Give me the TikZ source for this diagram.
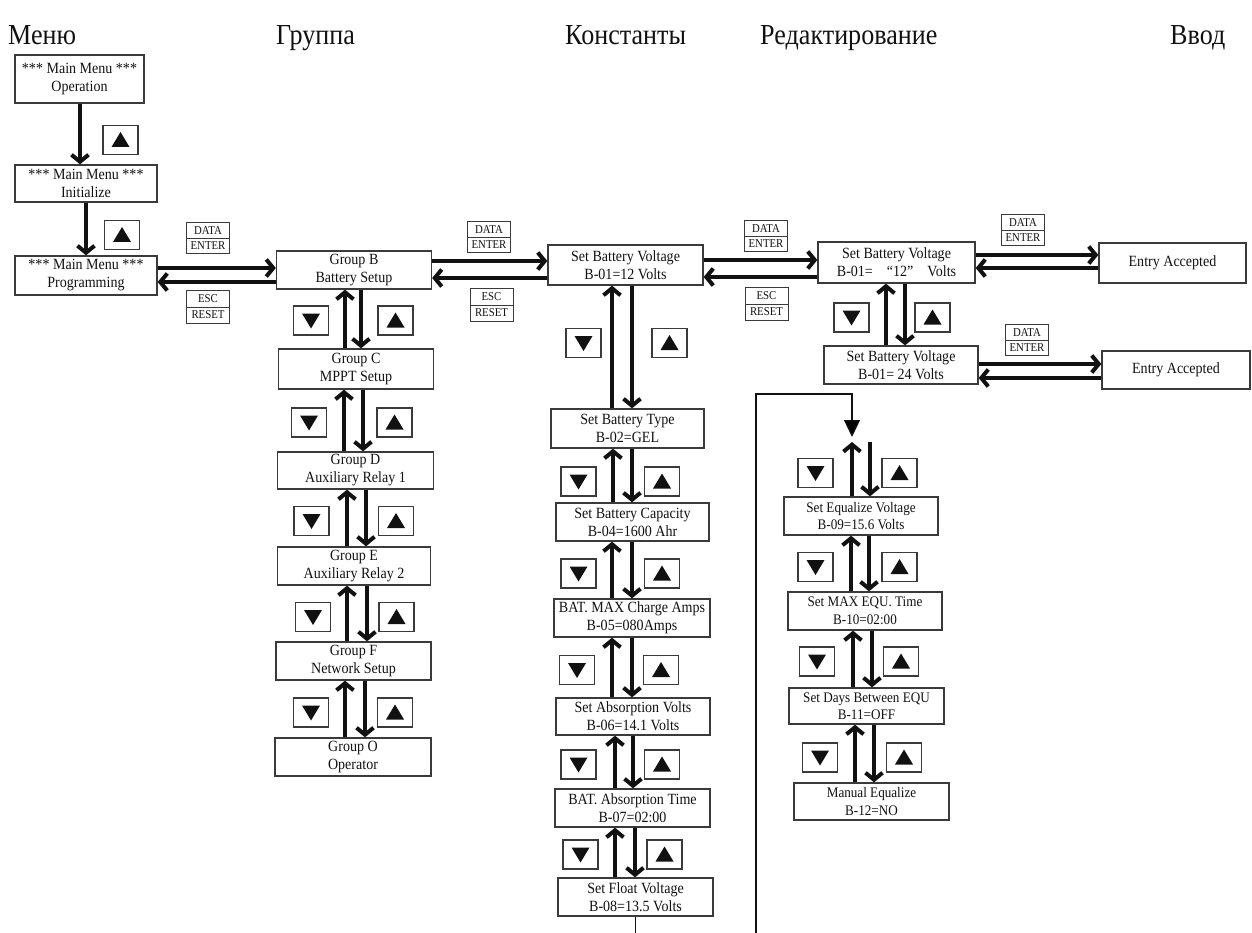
\documentclass[tikz,border=0pt]{standalone}
\usepackage{fontspec}
\setmainfont[FakeStretch=0.9]{Liberation Serif}
\usetikzlibrary{arrows.meta,shapes.multipart}
\definecolor{ink}{HTML}{111111}
\definecolor{frame}{HTML}{3A3A3A}

% key with an up / down triangle
\newcommand\ukey[3]{%
  \node[key] (#1) at (#2,#3) {};
  \fill[ink] ([shift={(-9,7)}]#1.center) -- ([shift={(9,7)}]#1.center) -- ([shift={(0,-8)}]#1.center) -- cycle;}
\newcommand\dkey[3]{%
  \node[key] (#1) at (#2,#3) {};
  \fill[ink] ([shift={(-9,-7)}]#1.center) -- ([shift={(9,-7)}]#1.center) -- ([shift={(0,8)}]#1.center) -- cycle;}

\begin{document}
\begin{tikzpicture}[x=1pt,y=-1pt,
  box/.style={draw=frame, line width=1.3pt, inner sep=0pt, align=center, text=ink,
    font=\fontsize{15.6}{18}\selectfont},
  sbox/.style={box, font=\fontsize{14.6}{17.5}\selectfont},
  key/.style={draw=frame, line width=1.3pt, minimum width=35pt, minimum height=29pt, inner sep=0pt},
  lbl/.style={draw=frame, line width=1pt, rectangle split, rectangle split parts=2,
    inner xsep=2pt, inner ysep=3.5pt, minimum width=43pt, text=ink,
    font=\fontsize{12}{13}\selectfont},
  fw/.style={draw=ink, line width=4pt, -{Straight Barb[length=7pt,width=17pt]}},
  thinline/.style={draw=ink, line width=1.3pt},
  head/.style={anchor=base west, inner sep=0pt, text=ink, font=\fontsize{29}{32}\selectfont}]

\useasboundingbox (0,0) rectangle (1252,933);

% column headings
\node[head] (h1) at (8,45) {Меню};
\node[head] (h2) at (276,45) {Группа};
\node[head] (h3) at (565,45) {Константы};
\node[head] (h4) at (760,45) {Редактирование};
\node[head] (h5) at (1170,45) {Ввод};

% main menu column
\node[box, minimum width=129pt, minimum height=48pt] (L1) at (79.5,79) {*** Main Menu ***\\Operation};
\node[box, minimum width=142pt, minimum height=37pt] (L2) at (86,183.5) {*** Main Menu ***\\Initialize};
\node[box, minimum width=142pt, minimum height=39pt] (L3) at (86,275.5) {*** Main Menu ***\\Programming};
\ukey{kL1}{120.5}{140}
\ukey{kL2}{122}{235}
\draw[fw] (80,0 |- L1.south) -- (80,0 |- L2.north);
\draw[fw] (86,0 |- L2.south) -- (86,0 |- L3.north);

% group column
\node[box, minimum width=155pt, minimum height=38pt] (GB) at (354,270) {Group B\\Battery Setup};
\node[box, minimum width=155pt, minimum height=40pt] (GC) at (356,369) {Group C\\MPPT Setup};
\node[box, minimum width=156pt, minimum height=37pt] (GD) at (355.5,470.5) {Group D\\Auxiliary Relay 1};
\node[box, minimum width=153pt, minimum height=38pt] (GE) at (354,566) {Group E\\Auxiliary Relay 2};
\node[box, minimum width=155pt, minimum height=38pt] (GF) at (353.5,661) {Group F\\Network Setup};
\node[box, minimum width=156pt, minimum height=38pt] (GO) at (353,757) {Group O\\Operator};

\dkey{kG1d}{311}{320.5} \ukey{kG1u}{395.5}{320.5}
\dkey{kG2d}{309}{422.5} \ukey{kG2u}{394.5}{422.5}
\dkey{kG3d}{311.5}{521} \ukey{kG3u}{396}{521}
\dkey{kG4d}{313}{617}   \ukey{kG4u}{396.5}{617}
\dkey{kG5d}{311}{712.5} \ukey{kG5u}{395}{712.5}

\draw[fw] (345,0 |- GC.north) -- (345,0 |- GB.south);
\draw[fw] (361,0 |- GB.south) -- (361,0 |- GC.north);
\draw[fw] (344,0 |- GD.north) -- (344,0 |- GC.south);
\draw[fw] (363,0 |- GC.south) -- (363,0 |- GD.north);
\draw[fw] (347,0 |- GE.north) -- (347,0 |- GD.south);
\draw[fw] (366,0 |- GD.south) -- (366,0 |- GE.north);
\draw[fw] (347,0 |- GF.north) -- (347,0 |- GE.south);
\draw[fw] (367,0 |- GE.south) -- (367,0 |- GF.north);
\draw[fw] (345,0 |- GO.north) -- (345,0 |- GF.south);
\draw[fw] (365,0 |- GF.south) -- (365,0 |- GO.north);

% menu <-> group
\node[lbl] (de1) at (208,238) {DATA\nodepart{two}ENTER};
\node[lbl] (er1) at (208,307) {ESC\nodepart{two}RESET};
\draw[fw] (L3.east |- 0,268) -- (GB.west |- 0,268);
\draw[fw] (GB.west |- 0,282) -- (L3.east |- 0,282);

% constants column
\node[box, minimum width=155pt, minimum height=40pt] (M1) at (625.5,265) {Set Battery Voltage\\B-01=12 Volts};
\node[box, minimum width=153pt, minimum height=39pt] (M2) at (627.5,428.5) {Set Battery Type\\B-02=GEL};
\node[box, minimum width=153pt, minimum height=38pt] (M3) at (632.5,522) {Set Battery Capacity\\B-04=1600 Ahr};
\node[box, minimum width=156pt, minimum height=38pt] (M4) at (632,618) {BAT. MAX Charge Amps\\B-05=080Amps};
\node[box, minimum width=154pt, minimum height=37pt] (M5) at (633,716.5) {Set Absorption Volts\\B-06=14.1 Volts};
\node[box, minimum width=155pt, minimum height=38pt] (M6) at (632.5,808) {BAT. Absorption Time\\B-07=02:00};
\node[box, minimum width=155pt, minimum height=38pt] (M7) at (635.5,897) {Set Float Voltage\\B-08=13.5 Volts};

\dkey{kM1d}{583.5}{343}   \ukey{kM1u}{669.5}{343}
\dkey{kM2d}{578.5}{481.5} \ukey{kM2u}{662}{481.5}
\dkey{kM3d}{578.5}{573.5} \ukey{kM3u}{662}{573.5}
\dkey{kM4d}{577}{670}     \ukey{kM4u}{661}{670}
\dkey{kM5d}{578.5}{764.5} \ukey{kM5u}{662}{764.5}
\dkey{kM6d}{580.5}{854.5} \ukey{kM6u}{664.5}{854.5}

\draw[fw] (612,0 |- M2.north) -- (612,0 |- M1.south);
\draw[fw] (632,0 |- M1.south) -- (632,0 |- M2.north);
\draw[fw] (613,0 |- M3.north) -- (613,0 |- M2.south);
\draw[fw] (632,0 |- M2.south) -- (632,0 |- M3.north);
\draw[fw] (612,0 |- M4.north) -- (612,0 |- M3.south);
\draw[fw] (632,0 |- M3.south) -- (632,0 |- M4.north);
\draw[fw] (612,0 |- M5.north) -- (612,0 |- M4.south);
\draw[fw] (632,0 |- M4.south) -- (632,0 |- M5.north);
\draw[fw] (615,0 |- M6.north) -- (615,0 |- M5.south);
\draw[fw] (633,0 |- M5.south) -- (633,0 |- M6.north);
\draw[fw] (615,0 |- M7.north) -- (615,0 |- M6.south);
\draw[fw] (635,0 |- M6.south) -- (635,0 |- M7.north);

\coordinate (floatend) at (635.5,933);
\draw[thinline] (M7.south) -- (floatend);

% group <-> constants
\node[lbl] (de2) at (489,237) {DATA\nodepart{two}ENTER};
\node[lbl] (er2) at (491.5,305) {ESC\nodepart{two}RESET};
\draw[fw] (GB.east |- 0,261) -- (M1.west |- 0,261);
\draw[fw] (M1.west |- 0,278) -- (GB.east |- 0,278);

% edit column
\node[box, minimum width=157pt, minimum height=41pt] (R1) at (896.5,262.5) {Set Battery Voltage\\B-01=\hspace{0.9em}“12”\hspace{0.9em}Volts};
\node[box, minimum width=154pt, minimum height=38pt] (R2) at (901,365) {Set Battery Voltage\\B-01= 24 Volts};
\dkey{kR1d}{851.5}{317.5} \ukey{kR1u}{932.5}{317.5}
\draw[fw] (886,0 |- R2.north) -- (886,0 |- R1.south);
\draw[fw] (905,0 |- R1.south) -- (905,0 |- R2.north);

\node[lbl] (de3) at (766,236) {DATA\nodepart{two}ENTER};
\node[lbl] (er3) at (766.5,304) {ESC\nodepart{two}RESET};
\draw[fw] (M1.east |- 0,260) -- (R1.west |- 0,260);
\draw[fw] (R1.west |- 0,277) -- (M1.east |- 0,277);

% entry column
\node[box, minimum width=147pt, minimum height=40pt] (A1) at (1172.5,263) {Entry Accepted};
\node[box, minimum width=148pt, minimum height=38pt] (A2) at (1176,370) {Entry Accepted};
\node[lbl] (de4) at (1023,230) {DATA\nodepart{two}ENTER};
\node[lbl] (de5) at (1027,340) {DATA\nodepart{two}ENTER};
\draw[fw] (R1.east |- 0,255) -- (A1.west |- 0,255);
\draw[fw] (A1.west |- 0,268) -- (R1.east |- 0,268);
\draw[fw] (R2.east |- 0,364) -- (A2.west |- 0,364);
\draw[fw] (A2.west |- 0,378) -- (R2.east |- 0,378);

% equalize group
\node[sbox, minimum width=154pt, minimum height=38pt] (E1) at (861,516) {Set Equalize Voltage\\B-09=15.6 Volts};
\node[sbox, minimum width=154pt, minimum height=38pt] (E2) at (865,611) {Set MAX EQU. Time\\B-10=02:00};
\node[sbox, minimum width=155pt, minimum height=36pt] (E3) at (866.5,706) {Set Days Between EQU\\B-11=OFF};
\node[sbox, minimum width=155pt, minimum height=37pt] (E4) at (871.5,801.5) {Manual Equalize\\B-12=NO};

\dkey{kE0d}{815.5}{473}   \ukey{kE0u}{899.5}{473}
\dkey{kE1d}{815.5}{567}   \ukey{kE1u}{899.5}{567}
\dkey{kE2d}{817}{661.5}   \ukey{kE2u}{901}{661.5}
\dkey{kE3d}{820}{757.5}   \ukey{kE3u}{904}{757.5}

\coordinate (eqtop) at (861,442);
\draw[fw] (852,0 |- E1.north) -- (852,0 |- eqtop);
\draw[fw] (870,0 |- eqtop) -- (870,0 |- E1.north);
\draw[fw] (851,0 |- E2.north) -- (851,0 |- E1.south);
\draw[fw] (869,0 |- E1.south) -- (869,0 |- E2.north);
\draw[fw] (853,0 |- E3.north) -- (853,0 |- E2.south);
\draw[fw] (872,0 |- E2.south) -- (872,0 |- E3.north);
\draw[fw] (855,0 |- E4.north) -- (855,0 |- E3.south);
\draw[fw] (874,0 |- E3.south) -- (874,0 |- E4.north);

% return line into the equalize group
\coordinate (lp0) at (756,933);
\coordinate (lp1) at (756,394);
\coordinate (lp2) at (852,394);
\coordinate (lp3) at (852,437);
\draw[thinline, -{Triangle[length=17pt,width=16pt]}] (lp0) -- (lp1) -- (lp2) -- (lp3);

\end{tikzpicture}
\end{document}
